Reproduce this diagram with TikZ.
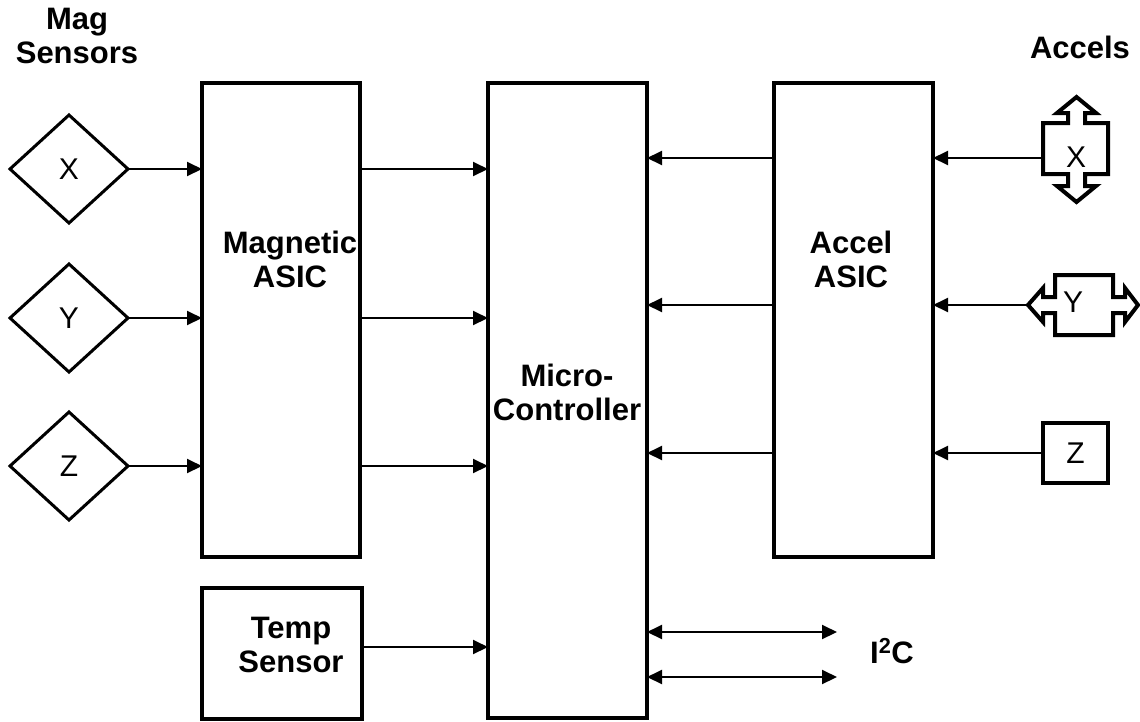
\documentclass[tikz,border=0pt]{standalone}
\usepackage{fontspec}
\setmainfont{Liberation Sans}
\usetikzlibrary{shapes.geometric,arrows.meta}
\begin{document}
\begin{tikzpicture}[x=1pt,y=-1pt,
  blk/.style={draw,line width=4pt,inner sep=0pt,outer sep=0pt},
  dia/.style={draw,diamond,line width=3pt,inner sep=0pt,outer sep=0pt,
    minimum width=118pt,minimum height=108pt,font=\fontsize{30}{33}\selectfont},
  sensbox/.style={line width=4pt,line join=miter},
  lbl/.style={inner sep=0pt,align=center,anchor=base,font=\fontsize{31}{33.5}\selectfont\bfseries},
  letter/.style={inner sep=0pt,font=\fontsize{30}{33}\selectfont},
  conn/.style={line width=2pt,-{Triangle[length=15pt,width=14pt]}},
  biconn/.style={line width=2pt,{Triangle[length=15pt,width=14pt]}-{Triangle[length=15pt,width=14pt]}}]
\useasboundingbox (0,0) rectangle (1140,721);

% blocks
\node[blk,minimum width=158pt,minimum height=474pt] (mag) at (281,320) {};
\node[blk,minimum width=160pt,minimum height=131pt] (temp) at (282,653.5) {};
\node[blk,minimum width=159pt,minimum height=635pt] (mc) at (567.5,400.5) {};
\node[blk,minimum width=159pt,minimum height=474pt] (acc) at (853.5,320) {};

% block labels (base = baseline of last line)
\node[lbl] (magL) at (290,287) {Magnetic\\ASIC};
\node[lbl] (tempL) at (291,672) {Temp\\Sensor};
\node[lbl] (mcL) at (567,420) {Micro-\\Controller};
\node[lbl] (accL) at (851,287) {Accel\\ASIC};
\node[lbl] (magS) at (77,63) {Mag\\Sensors};
\node[lbl] (accS) at (1080,58) {Accels};
\node[lbl] (i2c) at (892,663) {I\textsuperscript{2}C};

% magnetic sensors
\node[dia] (dX) at (69,169) {X};
\node[dia] (dY) at (69,318) {Y};
\node[dia] (dZ) at (69,466) {Z};

% accelerometers
\draw[sensbox] (1043,123) -- (1068,123) -- (1068,113) -- (1057,113) -- (1076.5,97)
  -- (1096,113) -- (1085,113) -- (1085,123) -- (1108,123) -- (1108,174)
  -- (1085,174) -- (1085,186) -- (1096,186) -- (1076.5,202) -- (1057,186)
  -- (1068,186) -- (1068,174) -- (1043,174) -- cycle;
\node[letter] (aXL) at (1076,157) {X};
\draw[sensbox] (1055,275) -- (1113,275) -- (1113,297) -- (1125,297) -- (1125,288)
  -- (1138,305) -- (1125,322) -- (1125,313) -- (1113,313) -- (1113,335)
  -- (1055,335) -- (1055,313) -- (1043,313) -- (1043,322) -- (1028,305)
  -- (1043,288) -- (1043,297) -- (1055,297) -- cycle;
\node[letter] (aYL) at (1073,302) {Y};
\node[blk,minimum width=65pt,minimum height=60pt,font=\fontsize{30}{33}\selectfont] (aZ) at (1075.5,453) {Z};

\coordinate (pX) at (1043,158);
\coordinate (pY) at (1028,305);
\coordinate (pZ) at (aZ.west);
\coordinate (pT) at ([yshift=6.5pt]temp.east);

% connectors: mag side
\draw[conn] (dX.east) -- (mag.west |- dX.east);
\draw[conn] (dY.east) -- (mag.west |- dY.east);
\draw[conn] (dZ.east) -- (mag.west |- dZ.east);
\draw[conn] (mag.east |- dX.east) -- (mc.west |- dX.east);
\draw[conn] (mag.east |- dY.east) -- (mc.west |- dY.east);
\draw[conn] (mag.east |- dZ.east) -- (mc.west |- dZ.east);
\draw[conn] (pT) -- (mc.west |- pT);

% connectors: accel side
\draw[conn] (pX) -- (acc.east |- pX);
\draw[conn] (pY) -- (acc.east |- pY);
\draw[conn] (pZ) -- (acc.east |- pZ);
\draw[conn] (acc.west |- pX) -- (mc.east |- pX);
\draw[conn] (acc.west |- pY) -- (mc.east |- pY);
\draw[conn] (acc.west |- pZ) -- (mc.east |- pZ);

% I2C
\coordinate (i2a) at (837,632);
\coordinate (i2b) at (837,677);
\draw[biconn] (mc.east |- i2a) -- (i2a);
\draw[biconn] (mc.east |- i2b) -- (i2b);
\end{tikzpicture}
\end{document}
